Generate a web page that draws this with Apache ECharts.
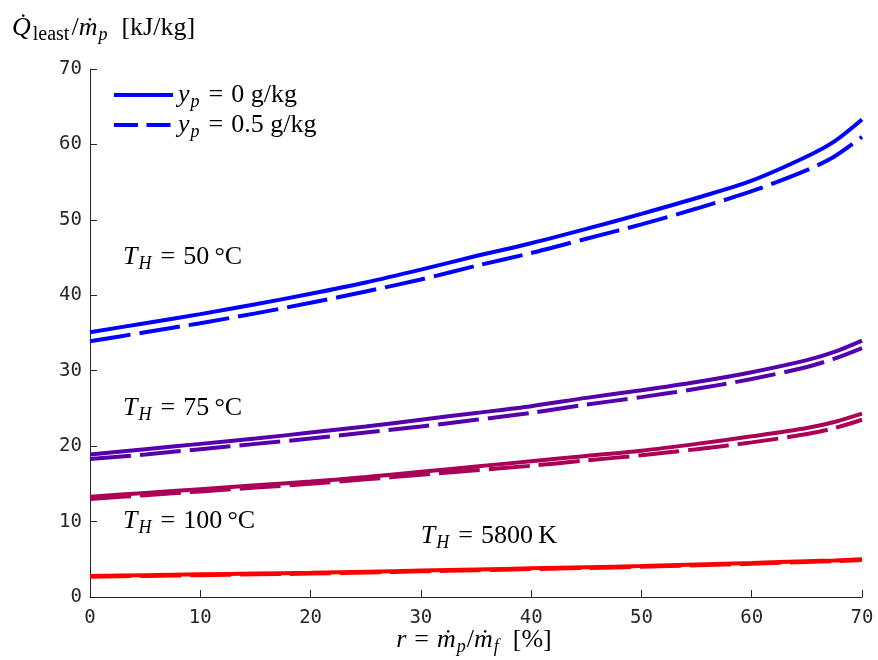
<!DOCTYPE html>
<html>
<head>
<meta charset="utf-8">
<script src="https://cdn.jsdelivr.net/npm/echarts@6/dist/echarts.min.js"></script>
<style>
  html, body { margin: 0; padding: 0; background: #fff; }
  #chart { width: 878px; height: 660px; }
</style>
</head>
<body>
<div id="chart"></div>
<script>
// Mass ratio r = m_p / m_f in percent
const r = [0, 5, 10, 15, 20, 25, 30, 35, 40, 45, 50, 55, 60, 65, 67.5, 70];

// Least heat input per unit product, kJ/kg, for each heat-source temperature
// (solid: y_p = 0 g/kg, dashed: y_p = 0.5 g/kg)
const q50_y0    = [35.1, 36.3, 37.5, 38.8, 40.2, 41.7, 43.4, 45.2, 46.9, 48.8, 50.8, 52.9, 55.2, 58.4, 60.4, 63.3];
const q50_y05   = [33.9, 35.1, 36.3, 37.6, 39.0, 40.5, 42.1, 43.9, 45.6, 47.5, 49.4, 51.5, 53.8, 56.6, 58.4, 61.0];
const q75_y0    = [18.9, 19.6, 20.3, 21.0, 21.8, 22.6, 23.5, 24.4, 25.3, 26.4, 27.4, 28.5, 29.8, 31.4, 32.5, 34.0];
const q75_y05   = [18.3, 18.9, 19.6, 20.3, 21.0, 21.8, 22.6, 23.5, 24.4, 25.5, 26.5, 27.6, 28.9, 30.5, 31.6, 33.0];
const q100_y0   = [13.3, 13.8, 14.3, 14.8, 15.3, 15.9, 16.6, 17.3, 18.0, 18.7, 19.4, 20.3, 21.3, 22.4, 23.2, 24.3];
const q100_y05  = [13.0, 13.5, 14.0, 14.5, 15.0, 15.6, 16.2, 16.8, 17.4, 18.1, 18.8, 19.6, 20.5, 21.6, 22.4, 23.5];
const q5800_y0  = [2.8, 2.9, 3.0, 3.1, 3.2, 3.35, 3.5, 3.65, 3.8, 3.95, 4.1, 4.3, 4.5, 4.75, 4.85, 5.0];
const q5800_y05 = [2.7, 2.8, 2.9, 3.0, 3.1, 3.25, 3.4, 3.55, 3.7, 3.85, 4.0, 4.2, 4.4, 4.65, 4.75, 4.9];

// Axis ticks
const xTicks = [0, 10, 20, 30, 40, 50, 60, 70];
const yTicks = [0, 10, 20, 30, 40, 50, 60, 70];

// Curve labels: [x, y, temperature text]
const curveLabels = [
  [3, 45, '50\u2009°C'],
  [3, 25, '75\u2009°C'],
  [3, 10, '100\u2009°C'],
  [30, 8, '5800\u2009K']
];

const legendNames = ['y_p = 0 g/kg', 'y_p = 0.5 g/kg'];

const AXIS = '#262626';
const SERIF = '"Liberation Serif", "DejaVu Serif", serif';
const MONO = '"DejaVu Sans Mono", "Liberation Mono", monospace';
const FS = 26;
const LH = 27;

// Rich text styles for math-like labels
const rich = {
  it:  { fontFamily: SERIF, fontStyle: 'italic', fontSize: FS, lineHeight: LH, fill: '#000', color: '#000' },
  rm:  { fontFamily: SERIF, fontSize: FS, lineHeight: LH, fill: '#000', color: '#000' },
  op:  { fontFamily: SERIF, fontSize: FS, lineHeight: LH, padding: [0, 8, 0, 8], fill: '#000', color: '#000' },
  sub: { fontFamily: SERIF, fontStyle: 'italic', fontSize: 18, lineHeight: 13, padding: [14, 1, 0, 1], fill: '#000', color: '#000' },
  subrm: { fontFamily: SERIF, fontSize: 20, lineHeight: 13, padding: [14, 2, 0, 2], fill: '#000', color: '#000' }
};

const lineColors = ['#0000FF', '#5500AA', '#AA0055', '#FF0000'];
const solidSets = [q50_y0, q75_y0, q100_y0, q5800_y0];
const dashSets = [q50_y05, q75_y05, q100_y05, q5800_y05];
const DASH = [41, 9];

function pairs(ys) { return r.map((x, i) => [x, ys[i]]); }

const series = [];
for (let k = 0; k < 4; k++) {
  series.push({
    name: legendNames[0], type: 'line', data: pairs(solidSets[k]),
    symbol: 'none', smooth: 0.3, color: lineColors[k],
    lineStyle: { width: 4, color: lineColors[k], type: 'solid', cap: 'butt' },
    z: 3
  });
  series.push({
    name: legendNames[1], type: 'line', data: pairs(dashSets[k]),
    symbol: 'none', smooth: 0.3, color: lineColors[k],
    lineStyle: { width: 4, color: lineColors[k], type: DASH, cap: 'butt' },
    z: 2
  });
}

const chart = echarts.init(document.getElementById('chart'), null, { renderer: 'canvas' });

const axisCommon = {
  type: 'value', min: 0, max: 70, interval: 10,
  axisLine: { show: true, lineStyle: { color: AXIS, width: 1 } },
  axisTick: { show: true, inside: true, length: 7, lineStyle: { color: AXIS, width: 1 } },
  axisLabel: { fontFamily: MONO, fontSize: 19, color: AXIS, margin: 8 },
  splitLine: { show: false }
};

// Legend entries: plain line samples, no marker
const hiddenMarker = { opacity: 0, borderWidth: 0, color: 'rgba(0,0,0,0)' };

chart.setOption({
  animation: false,
  backgroundColor: '#fff',
  grid: { left: 90, right: 16, top: 69, bottom: 63, containLabel: false },
  xAxis: Object.assign({}, axisCommon, {
    axisLabel: Object.assign({}, axisCommon.axisLabel, {
      margin: 12, customValues: xTicks, formatter: v => String(v)
    })
  }),
  yAxis: Object.assign({}, axisCommon, {
    axisLabel: Object.assign({}, axisCommon.axisLabel, {
      customValues: yTicks, formatter: v => String(v)
    })
  }),
  legend: {
    orient: 'vertical', left: 112, top: 79, padding: 0,
    itemWidth: 59, itemHeight: 14, itemGap: -2,
    itemStyle: hiddenMarker,
    data: [
      { name: legendNames[0], itemStyle: hiddenMarker,
        lineStyle: { type: 'solid', width: 4, color: '#0000FF' } },
      { name: legendNames[1], itemStyle: hiddenMarker,
        lineStyle: { type: [24, 8.5], width: 4, color: '#0000FF' } }
    ],
    formatter: name => name === legendNames[0]
      ? '{it|y}{sub|p}{op|=}{rm|0 g/kg}'
      : '{it|y}{sub|p}{op|=}{rm|0.5 g/kg}',
    textStyle: { rich: rich }
  },
  series: series
});

// Curve annotations placed in data coordinates, plus axis titles
const graphics = curveLabels.map(([x, y, t]) => {
  const p = chart.convertToPixel({ gridIndex: 0 }, [x, y]);
  return {
    type: 'text', x: p[0], y: p[1], z: 10,
    style: {
      text: '{it|T}{sub|H}{op|=}{rm|' + t + '}',
      rich: rich, align: 'left', verticalAlign: 'middle'
    }
  };
});

graphics.push({
  type: 'text', x: 12, y: 28, z: 10,
  style: {
    text: '{it|Q\u0307}{subrm|least}{rm|/}{it|\u1E41}{sub|p}{rm|  [kJ/kg]}',
    rich: rich, align: 'left', verticalAlign: 'middle'
  }
});

graphics.push({
  type: 'text', x: 474, y: 640, z: 10,
  style: {
    text: '{it|r}{op|=}{it|\u1E41}{sub|p}{rm|/}{it|\u1E41}{sub|f}{rm|  [%]}',
    rich: rich, align: 'center', verticalAlign: 'middle'
  }
});

chart.setOption({ graphic: graphics });
</script>
</body>
</html>
